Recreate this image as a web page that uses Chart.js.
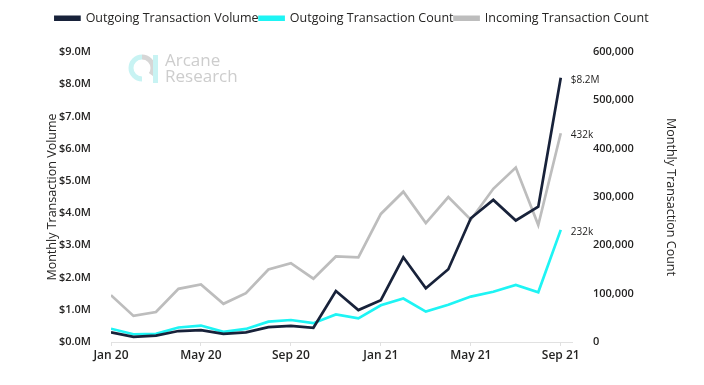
<!DOCTYPE html>
<html>
<head>
<meta charset="utf-8">
<script src="https://cdn.jsdelivr.net/npm/chart.js@4.4.0/dist/chart.umd.min.js"></script>
<style>
  html, body { margin: 0; padding: 0; background: #fff; }
  #wrap { width: 704px; height: 385px; }
</style>
</head>
<body>
<div id="wrap"><canvas id="chart"></canvas></div>
<script>
const months = ['Jan 20', 'Feb 20', 'Mar 20', 'Apr 20', 'May 20', 'Jun 20', 'Jul 20', 'Aug 20', 'Sep 20', 'Oct 20', 'Nov 20', 'Dec 20',
    'Jan 21', 'Feb 21', 'Mar 21', 'Apr 21', 'May 21', 'Jun 21', 'Jul 21', 'Aug 21', 'Sep 21'];
// outgoing volume in USD
const outVolume = [300000, 160000, 200000, 340000, 370000, 250000, 300000, 460000, 500000, 440000, 1580000, 990000,
    1300000, 2630000, 1670000, 2260000, 3840000, 4410000, 3770000, 4200000, 8200000];
const outCount = [27500, 16000, 17000, 30000, 34000, 21000, 27000, 42000, 45500, 39000, 57000, 49000,
    76000, 90000, 63000, 77000, 94000, 104000, 118000, 103000, 232000];
const inCount = [97000, 54000, 62000, 110000, 119000, 79000, 101000, 150000, 163000, 131000, 177000, 175000,
    265000, 311000, 246000, 300000, 253000, 317000, 361000, 242000, 432000];
const endLabels = ['$8.2M', '232k', '432k'];

const FONT = '"Open Sans", "Noto Sans", sans-serif';
const TEXT = '#252423';

const toPts = arr => arr.map((v, i) => ({ x: i, y: v }));

// legend block taller than default so the plot starts lower
const legendHeight = {
    id: 'legendHeight',
    beforeInit(chart) {
        const fit = chart.legend.fit;
        chart.legend.fit = function () { fit.bind(chart.legend)(); this.height = 41; };
    }
};

const watermark = {
    id: 'watermark',
    beforeDatasetsDraw(chart) {
        const { ctx, chartArea } = chart;
        const x = chartArea.left, y = chartArea.top;
        ctx.save();
        ctx.lineWidth = 5;
        ctx.strokeStyle = '#c8f3f3';
        ctx.beginPath();
        ctx.arc(x + 31, y + 16, 11, Math.PI * 0.5, Math.PI * 1.5);
        ctx.stroke();
        ctx.strokeStyle = '#d6d6d6';
        ctx.beginPath();
        ctx.arc(x + 31, y + 16, 11, Math.PI * 1.5, Math.PI * 0.2);
        ctx.stroke();
        ctx.fillStyle = '#c8f3f3';
        ctx.fillRect(x + 42, y + 3, 5, 28);
        ctx.fillStyle = '#cdcdcd';
        ctx.font = '17px ' + FONT;
        ctx.textBaseline = 'middle';
        ctx.fillText('Arcane', x + 54, y + 9);
        ctx.fillText('Research', x + 54, y + 25);
        ctx.restore();
    }
};

const endValues = {
    id: 'endValues',
    afterDatasetsDraw(chart) {
        const { ctx } = chart;
        ctx.save();
        ctx.font = '10px ' + FONT;
        ctx.fillStyle = TEXT;
        ctx.textBaseline = 'middle';
        chart.data.datasets.forEach((ds, i) => {
            const pts = chart.getDatasetMeta(i).data;
            const p = pts[pts.length - 1];
            ctx.fillText(endLabels[i], p.x + 10, p.y + 2);
        });
        ctx.restore();
    }
};

new Chart(document.getElementById('chart'), {
    type: 'line',
    data: {
        datasets: [
            { label: 'Outgoing Transaction Volume', data: toPts(outVolume), yAxisID: 'yL', borderColor: '#18223a', backgroundColor: '#18223a' },
            { label: 'Outgoing Transaction Count', data: toPts(outCount), yAxisID: 'yR', borderColor: '#1ef4f4', backgroundColor: '#1ef4f4' },
            { label: 'Incoming Transaction Count', data: toPts(inCount), yAxisID: 'yR', borderColor: '#bdbdbd', backgroundColor: '#bdbdbd' }
        ]
    },
    options: {
        responsive: true,
        maintainAspectRatio: false,
        animation: false,
        devicePixelRatio: 1,
        layout: { padding: { top: 11 } },
        elements: { point: { radius: 0 }, line: { borderWidth: 2.7, tension: 0 } },
        plugins: {
            legend: {
                labels: { boxWidth: 24, boxHeight: 3, padding: 1, color: TEXT, font: { family: FONT, size: 12.5 } }
            },
            tooltip: { enabled: false }
        },
        scales: {
            x: {
                type: 'linear', min: 0, max: 20.5,
                afterBuildTicks: s => { s.ticks = [0, 4, 8, 12, 16, 20].map(v => ({ value: v })); },
                afterFit: s => { s.height = 43; },
                grid: { drawOnChartArea: false, drawTicks: true, tickLength: 4, color: '#e1e1e1' },
                border: { color: '#e1e1e1' },
                ticks: { padding: 2, color: TEXT, font: { family: FONT, size: 12, weight: 600 }, callback: v => months[v] }
            },
            yL: {
                position: 'left', min: 0, max: 9000000,
                afterFit: s => { s.width = 111; },
                grid: { display: false }, border: { display: false },
                ticks: { stepSize: 1000000, padding: 12, color: TEXT, font: { family: FONT, size: 11, weight: 600 },
                    callback: v => '$' + (v / 1e6).toFixed(1) + 'M' },
                title: { display: true, text: 'Monthly Transaction Volume', color: TEXT, padding: { top: 45, bottom: 0 },
                    font: { family: FONT, size: 12.5 } }
            },
            yR: {
                position: 'right', min: 0, max: 600000,
                afterFit: s => { s.width = 132; },
                grid: { display: false }, border: { display: false },
                ticks: { stepSize: 100000, padding: 13, color: TEXT, font: { family: FONT, size: 11, weight: 600 },
                    callback: v => v.toLocaleString('en-US') },
                title: { display: true, text: 'Monthly Transaction Count', color: TEXT, padding: { top: 26, bottom: 0 },
                    font: { family: FONT, size: 12.5 } }
            }
        }
    },
    plugins: [legendHeight, watermark, endValues]
});
</script>
</body>
</html>
